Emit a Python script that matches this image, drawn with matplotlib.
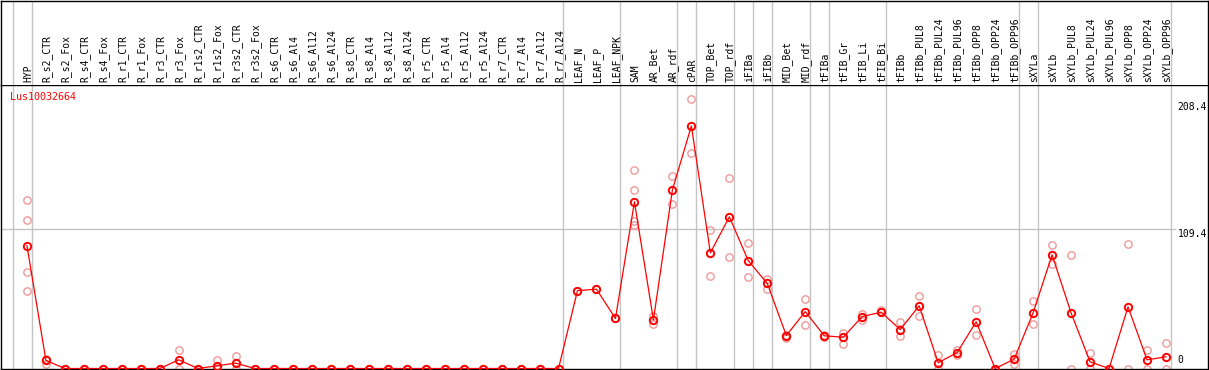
"""
Expression profile for one gene (Lus10032664) across tissues / treatments.
Writes: out.png
"""

import matplotlib
matplotlib.use("Agg")
import matplotlib.pyplot as plt
import matplotlib.transforms as mtransforms

GENE = "Lus10032664"

SAMPLES = [
    "HYP",
    "R_s2_CTR", "R_s2_Fox", "R_s4_CTR", "R_s4_Fox", "R_r1_CTR", "R_r1_Fox",
    "R_r3_CTR", "R_r3_Fox", "R_r1s2_CTR", "R_r1s2_Fox", "R_r3s2_CTR", "R_r3s2_Fox",
    "R_s6_CTR", "R_s6_Al4", "R_s6_Al12", "R_s6_Al24",
    "R_s8_CTR", "R_s8_Al4", "R_s8_Al12", "R_s8_Al24",
    "R_r5_CTR", "R_r5_Al4", "R_r5_Al12", "R_r5_Al24",
    "R_r7_CTR", "R_r7_Al4", "R_r7_Al12", "R_r7_Al24",
    "LEAF_N", "LEAF_P", "LEAF_NPK",
    "SAM", "AR_Bet", "AR_rdf", "cPAR", "TOP_Bet", "TOP_rdf", "iFIBa", "iFIBb",
    "MID_Bet", "MID_rdf", "tFIBa", "tFIB_Gr", "tFIB_Li", "tFIB_Bi",
    "tFIBb", "tFIBb_PUL8", "tFIBb_PUL24", "tFIBb_PUL96",
    "tFIBb_OPP8", "tFIBb_OPP24", "tFIBb_OPP96",
    "sXYLa", "sXYLb", "sXYLb_PUL8", "sXYLb_PUL24", "sXYLb_PUL96",
    "sXYLb_OPP8", "sXYLb_OPP24", "sXYLb_OPP96",
]

# mean expression per sample
MEANS = [
    96.3,
    6.3, 0, 0, 0, 0, 0, 0, 6.8, 0, 2.1, 4.2, 0,
    0, 0, 0, 0,
    0, 0, 0, 0,
    0, 0, 0, 0,
    0, 0, 0, 0,
    61.0, 62.1, 39.2,
    130.5, 38.1, 139.9, 190.0, 90.6, 118.8, 84.3, 66.6,
    25.8, 44.6, 25.6, 24.5, 40.7, 44.1,
    30.5, 49.1, 4.5, 12.5,
    36.6, 0, 7.3,
    43.6, 89.0, 43.6, 5.2, 0,
    48.3, 6.8, 9.2,
]

# individual replicates per sample
REPLICATES = [
    [132.0, 116.4, 75.2, 61.0],
    [7.6, 3.7], [0, 0], [0, 0], [0, 0], [0, 0], [0, 0], [0, 0],
    [14.6, 0], [0, 0], [6.3, 0], [9.9, 0], [0, 0],
    [0, 0], [0, 0], [0, 0], [0, 0],
    [0, 0], [0, 0], [0, 0], [0, 0],
    [0, 0], [0, 0], [0, 0], [0, 0],
    [0, 0], [0, 0], [0, 0], [0, 0],
    [61.0], [62.1], [39.2],
    [155.6, 139.9, 115.9, 112.0], [41.2, 35.0], [150.8, 129.0],
    [210.9, 168.6], [108.6, 72.6], [149.3, 87.7], [98.4, 71.3], [69.9, 62.6],
    [26.6, 24.0], [54.6, 34.2], [26.0, 25.0], [27.6, 19.3], [42.8, 38.1],
    [45.9, 44.6],
    [36.6, 25.1], [56.9, 41.3], [10.2, 0], [14.1, 10.4],
    [46.8, 26.4], [0, 0], [11.7, 3.9],
    [52.5, 35.0], [97.1, 82.0], [89.0, 0], [12.3, 0], [0, 0],
    [97.6, 0], [14.6, 0], [20.1, 0],
]

# sample index after which a group separator is drawn
GROUP_ENDS = [-1, 0, 28, 31, 34, 35, 37, 38, 39, 41, 42, 45, 52, 53, 60]

Y_MAX = 208.4
Y_MID = 109.4

FONT = "DejaVu Sans Mono"
GRID = "#c4c4c4"
RED = "#ff0000"
PINK = "#ee9a9a"

W, H = 1209, 370
X0, DX = 26, 19          # pixel position of first sample, spacing
PLOT_TOP, PLOT_BOT = 85, 368.5


def main():
    fig = plt.figure(figsize=(W / 100, H / 100), dpi=100)
    xlim = (-X0 / DX, (W - 0.5 - X0) / DX)

    ax = fig.add_axes([0.0008, (H - PLOT_BOT) / H, (W - 1.5) / W, (PLOT_BOT - PLOT_TOP) / H])
    lab = fig.add_axes([0.0008, (H - PLOT_TOP) / H, (W - 1.5) / W, (PLOT_TOP - 0.6) / H])

    for a in (ax, lab):
        a.set_xlim(*xlim)
        a.set_xticks([])
        a.set_yticks([])
        for s in a.spines.values():
            s.set_color("black")
            s.set_linewidth(1.0)
        for g in GROUP_ENDS:
            a.axvline(g + 0.25, color=GRID, linewidth=1, zorder=0)
    lab.set_ylim(0, 1)
    lab.spines["bottom"].set_visible(False)

    scale = (PLOT_BOT - 102.4) / Y_MAX     # pixels per unit
    ax.set_ylim(0, (PLOT_BOT - PLOT_TOP) / scale)

    ax.axhline(Y_MID, xmin=0, xmax=1175 / W, color=GRID, linewidth=1, zorder=0)

    xs = list(range(len(SAMPLES)))

    # replicates first, so the mean sits on top
    rx, ry = [], []
    for i, reps in enumerate(REPLICATES):
        rx += [i] * len(reps)
        ry += reps
    ax.plot(rx, ry, linestyle="none", marker="o", markersize=5.3,
            markerfacecolor="none", markeredgecolor=PINK, markeredgewidth=1.0,
            zorder=2)
    ax.plot(xs, MEANS, color=RED, linewidth=0.9, marker="o", markersize=5.3,
            markerfacecolor="none", markeredgecolor=RED, markeredgewidth=1.4,
            zorder=3)

    # sample labels, rotated
    for i, name in enumerate(SAMPLES):
        lab.text(i + 0.05, 0.035, name, rotation=90, ha="center", va="bottom",
                 fontsize=7, family=FONT, color="black")

    ax.text(9 / W, (PLOT_BOT - 97) / (PLOT_BOT - PLOT_TOP), GENE,
            transform=ax.transAxes, ha="left", va="center",
            fontsize=7.2, family=FONT, color=RED)

    # value labels on the right
    tr = mtransforms.blended_transform_factory(ax.transAxes, ax.transData)
    for v, va in ((Y_MAX, "top"), (Y_MID, "top"), (0, "bottom")):
        txt = f"{v:g}" if v else "0"
        ax.text(1178 / W, v if v else 2.5, txt, transform=tr, ha="left", va=va,
                fontsize=7, family=FONT, color="black")

    fig.savefig("out.png", dpi=100)
    plt.close(fig)


if __name__ == "__main__":
    main()
